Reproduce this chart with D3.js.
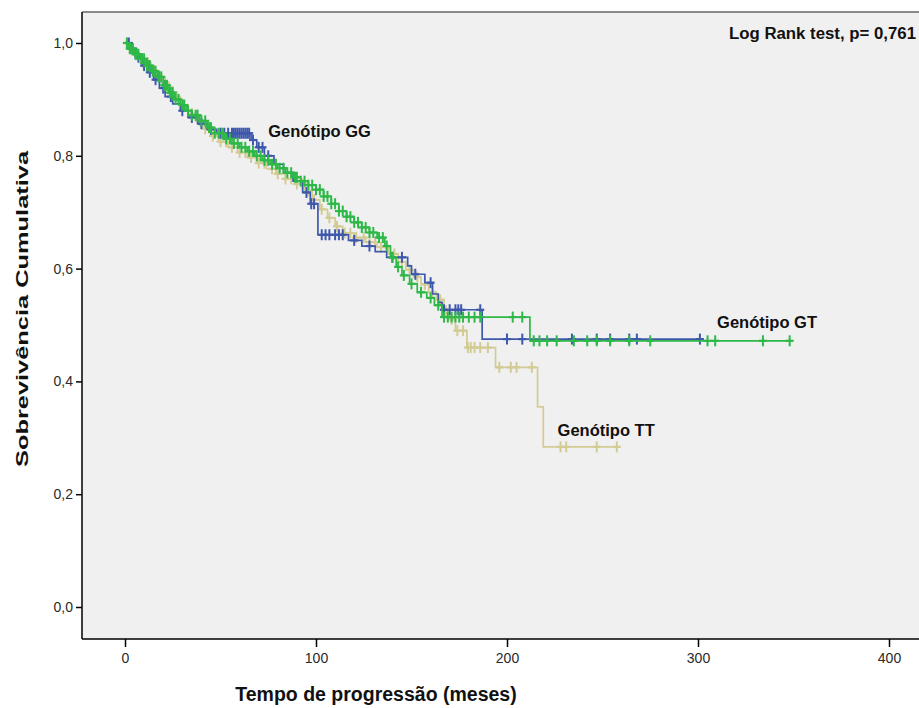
<!DOCTYPE html>
<html>
<head>
<meta charset="utf-8">
<script src="https://cdn.jsdelivr.net/npm/d3@7"></script>
<style>
  html, body { margin: 0; padding: 0; background: #ffffff; }
  svg { display: block; font-family: "Liberation Sans", Arial, sans-serif; }
</style>
</head>
<body>
<svg id="chart" width="919" height="708"></svg>
<script>
// Kaplan-Meier estimates: step times (months) and survival after each step
const groupNames = ["Genótipo GG", "Genótipo GT", "Genótipo TT"];

const stepTimesGG = [3, 6, 9, 12, 15, 18, 21, 25, 29, 33, 38, 43, 48, 66, 69, 73, 78, 83, 88, 93, 97, 101, 117, 124, 131, 137, 148, 150, 157, 161, 164, 166, 187];
const survGG      = [0.99, 0.975, 0.96, 0.948, 0.935, 0.92, 0.905, 0.892, 0.88, 0.868, 0.857, 0.847, 0.84, 0.828, 0.815, 0.80, 0.785, 0.77, 0.755, 0.735, 0.715, 0.66, 0.65, 0.64, 0.63, 0.62, 0.605, 0.59, 0.575, 0.555, 0.54, 0.527, 0.475];
const censorGG    = [2, 4, 7, 10, 13, 16, 20, 24, 30, 35, 40, 45, 50, 52, 54, 56, 57, 58, 59, 60, 61, 62, 63, 64, 65, 67, 70, 72, 75, 95, 97.5, 99, 103, 105, 107, 110, 112, 114, 120, 128, 140, 145, 152, 160, 167, 170, 173, 174.5, 176, 186, 200, 208, 234, 247, 254, 264, 268, 301];
const endGG = 301;

const stepTimesGT = [2, 5, 8, 11, 14, 17, 20, 23, 26, 29, 32, 35, 39, 43, 47, 52, 56, 60, 64, 68, 72, 76, 80, 84, 88, 92, 96, 100, 104, 108, 112, 116, 120, 124, 128, 132, 136, 139, 142, 145, 149, 153, 158, 162, 166, 212];
const survGT      = [0.99, 0.98, 0.972, 0.96, 0.95, 0.94, 0.925, 0.912, 0.90, 0.89, 0.88, 0.872, 0.862, 0.85, 0.84, 0.83, 0.822, 0.815, 0.808, 0.80, 0.792, 0.785, 0.778, 0.77, 0.762, 0.755, 0.748, 0.74, 0.728, 0.715, 0.702, 0.692, 0.682, 0.673, 0.664, 0.655, 0.64, 0.62, 0.603, 0.588, 0.573, 0.558, 0.548, 0.535, 0.514, 0.472];
const censorGT    = [1, 2.5, 3, 4, 5.5, 6, 7, 8.5, 9, 10, 11.5, 12, 13, 14.5, 15, 16, 17.5, 18, 19, 20.5, 21, 22, 23.5, 24, 25, 26.5, 28, 30, 31, 33, 35, 37, 38, 40, 42, 44, 45, 47, 49, 51, 53, 55, 57, 59, 61, 63, 65, 67, 69, 71, 73, 75, 77, 79, 81, 83, 85, 87, 89, 90, 92, 94, 96, 98, 100, 102, 104, 106, 108, 110, 112, 114, 116, 118, 120, 122, 124, 126, 128, 130, 133, 135, 137, 140, 143, 146, 150, 155, 160, 164, 167, 169, 171, 173, 175, 177, 180, 183, 186, 203, 208, 214, 217, 221, 226, 235, 242, 247, 254, 264, 275, 305, 309, 334, 348];
const endGT = 348;

const stepTimesTT = [2, 5, 9, 13, 17, 21, 25, 29, 33, 37, 41, 45, 49, 54, 59, 64, 69, 74, 79, 84, 89, 94, 98, 102, 106, 110, 114, 120, 126, 132, 138, 143, 147, 151, 155, 159, 163, 167, 170, 173, 179, 194, 216, 219];
const survTT      = [0.99, 0.98, 0.965, 0.952, 0.938, 0.922, 0.905, 0.89, 0.875, 0.862, 0.848, 0.835, 0.825, 0.815, 0.806, 0.797, 0.787, 0.777, 0.768, 0.759, 0.75, 0.738, 0.722, 0.705, 0.69, 0.675, 0.663, 0.655, 0.647, 0.638, 0.626, 0.612, 0.598, 0.585, 0.572, 0.558, 0.545, 0.525, 0.51, 0.49, 0.46, 0.425, 0.355, 0.284];
const censorTT    = [1, 3, 6, 9.5, 12, 15, 19, 23, 27, 31, 35, 39, 42, 46, 50, 53, 56, 60, 63, 66, 70, 73, 77, 80, 84, 87, 90, 93, 96, 99, 103, 107, 111, 115, 118, 121, 125, 128, 131, 134, 137, 141, 145, 149, 153, 157, 161, 165, 168, 171, 174, 177, 179.5, 181, 183, 186, 190, 196, 202, 205, 213, 228, 231, 247, 257.5];
const endTT = 258;

const xTicks = [0, 100, 200, 300, 400];
const yTicks = [0, 0.2, 0.4, 0.6, 0.8, 1.0];

const colors = { GG: "#3E58AC", GT: "#2EB848", TT: "#D3CB94" };

const svg = d3.select("#chart");

// plotting frame
const frame = { left: 82, top: 12, right: 940, bottom: 639 };
const x = d3.scaleLinear().domain([0, 400]).range([125, 889]);
const y = d3.scaleLinear().domain([0, 1]).range([607, 43]);

svg.append("rect")
  .attr("x", frame.left).attr("y", frame.top)
  .attr("width", frame.right - frame.left).attr("height", frame.bottom - frame.top)
  .attr("fill", "#f0f0f0");

// top border
svg.append("line")
  .attr("x1", frame.left).attr("x2", frame.right)
  .attr("y1", frame.top).attr("y2", frame.top)
  .attr("stroke", "#8a8a8a").attr("stroke-width", 2);

// survival step lines
function stepPath(times, surv, end) {
  const pts = [[0, 1]];
  let s = 1;
  times.forEach((t, i) => { pts.push([t, s]); s = surv[i]; pts.push([t, s]); });
  pts.push([end, s]);
  return pts;
}
function survAt(times, surv, t) {
  let s = 1;
  for (let i = 0; i < times.length; i++) { if (times[i] <= t) s = surv[i]; else break; }
  return s;
}

const groups = [
  { key: "TT", times: stepTimesTT, surv: survTT, cens: censorTT, end: endTT },
  { key: "GG", times: stepTimesGG, surv: survGG, cens: censorGG, end: endGG },
  { key: "GT", times: stepTimesGT, surv: survGT, cens: censorGT, end: endGT }
];

const line = d3.line().x(d => x(d[0])).y(d => y(d[1]));
const plot = svg.append("g");

groups.forEach(g => {
  const gg = plot.append("g").attr("class", "group-" + g.key);
  gg.append("path")
    .attr("d", line(stepPath(g.times, g.surv, g.end)))
    .attr("fill", "none")
    .attr("stroke", colors[g.key])
    .attr("stroke-width", 1.7);
  // censored observations as plus marks
  const marks = gg.selectAll("g.cens").data(g.cens).enter().append("g")
    .attr("transform", t => `translate(${x(t)},${y(survAt(g.times, g.surv, t))})`);
  marks.append("line").attr("x1", 0).attr("x2", 0).attr("y1", -5.5).attr("y2", 5.5)
    .attr("stroke", colors[g.key]).attr("stroke-width", 2);
  marks.append("line").attr("x1", -4).attr("x2", 4).attr("y1", 0).attr("y2", 0)
    .attr("stroke", colors[g.key]).attr("stroke-width", 2.2);
});

// axes
const fmt = d => d3.format(".1f")(d).replace(".", ",");
const yAxis = svg.append("g")
  .attr("transform", `translate(${frame.left},0)`)
  .call(d3.axisLeft(y).tickValues(yTicks).tickFormat(fmt).tickSize(6).tickPadding(3));
yAxis.select(".domain").remove();
yAxis.selectAll("text").attr("font-size", 14).attr("fill", "#2a2a2a")
  .attr("font-family", "'Liberation Sans', Arial, sans-serif");
yAxis.selectAll("line").attr("stroke", "#000").attr("stroke-width", 1.5);

const xAxis = svg.append("g")
  .attr("transform", `translate(0,${frame.bottom})`)
  .call(d3.axisBottom(x).tickValues(xTicks).tickSize(8).tickPadding(6));
xAxis.select(".domain").remove();
xAxis.selectAll("text").attr("font-size", 14).attr("fill", "#2a2a2a")
  .attr("font-family", "'Liberation Sans', Arial, sans-serif");
xAxis.selectAll("line").attr("stroke", "#000").attr("stroke-width", 1.5);

svg.append("line")
  .attr("x1", frame.left).attr("x2", frame.left)
  .attr("y1", frame.top).attr("y2", frame.bottom)
  .attr("stroke", "#000").attr("stroke-width", 1.5);
svg.append("line")
  .attr("x1", frame.left).attr("x2", frame.right)
  .attr("y1", frame.bottom).attr("y2", frame.bottom)
  .attr("stroke", "#000").attr("stroke-width", 1.5);

// axis titles
svg.append("text")
  .attr("x", 376).attr("y", 701)
  .attr("font-size", 19.5).attr("font-weight", "bold").attr("fill", "#111")
  .attr("text-anchor", "middle")
  .text("Tempo de progressão (meses)");

svg.append("text")
  .attr("transform", "translate(28,309) rotate(-90)")
  .attr("font-size", 17).attr("font-weight", "bold").attr("fill", "#111")
  .attr("text-anchor", "middle")
  .attr("textLength", 316).attr("lengthAdjust", "spacingAndGlyphs")
  .text("Sobrevivência Cumulativa");

// curve labels and test result
const labels = [
  { text: groupNames[0], t: 75, s: 0.833 },
  { text: groupNames[1], t: 310, s: 0.495 },
  { text: groupNames[2], t: 226.5, s: 0.303 }
];
svg.selectAll("text.lbl").data(labels).enter().append("text")
  .attr("class", "lbl")
  .attr("x", d => x(d.t)).attr("y", d => y(d.s))
  .attr("font-size", 16.5).attr("font-weight", "bold").attr("fill", "#111")
  .text(d => d.text);

svg.append("text")
  .attr("x", 916).attr("y", 39)
  .attr("text-anchor", "end")
  .attr("font-size", 16.8).attr("font-weight", "bold").attr("fill", "#111")
  .text("Log Rank test, p= 0,761");
</script>
</body>
</html>
